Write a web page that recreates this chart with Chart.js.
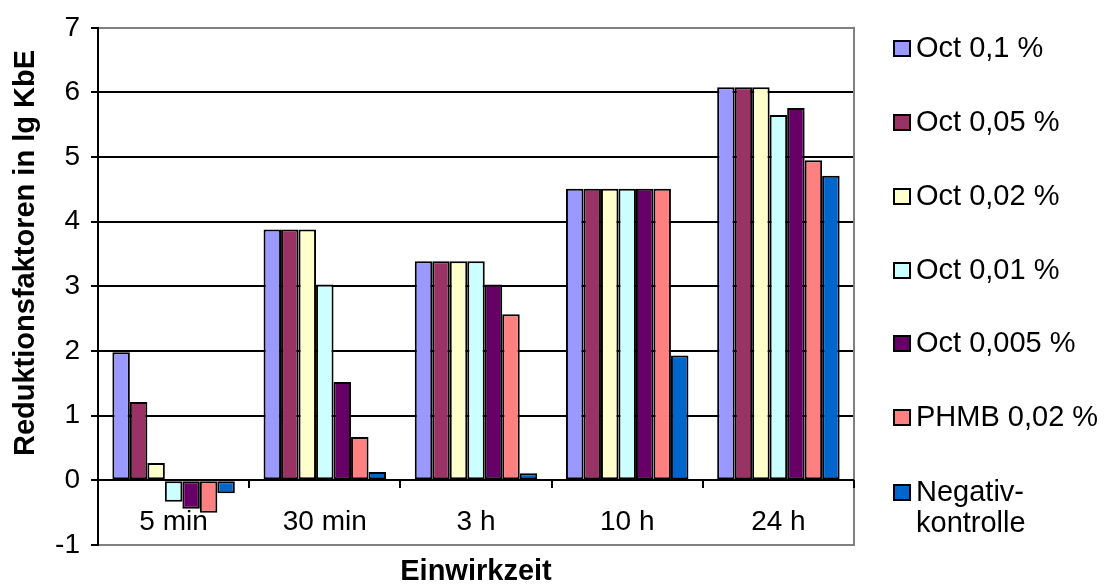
<!DOCTYPE html>
<html>
<head>
<meta charset="utf-8">
<title>Reduktionsfaktoren</title>
<script src="https://cdn.jsdelivr.net/npm/chart.js@4.4.1/dist/chart.umd.min.js"></script>
<style>
  html, body { margin: 0; padding: 0; background: #fff; }
  #wrap { position: relative; width: 1112px; height: 585px; overflow: hidden; }
  #chart { position: absolute; left: 0; top: 0; }
  .lg-box { position: absolute; width: 18px; height: 17px; box-sizing: border-box; border: 2px solid #000; }
  .lg-text { position: absolute; font-family: "Liberation Sans", Arial, sans-serif; font-size: 29px; line-height: 31px; color: #000; white-space: nowrap; }
</style>
</head>
<body>
<div id="wrap">
  <canvas id="chart" width="1112" height="585"></canvas>
</div>
<script>
// Exposure times
const categories = ['5 min', '30 min', '3 h', '10 h', '24 h'];

// Reduction factors (lg CFU) per solution
const oct0_1   = [1.98, 3.88, 3.39, 4.51, 6.08];
const oct0_05  = [1.21, 3.88, 3.39, 4.51, 6.08];
const oct0_02  = [0.27, 3.88, 3.39, 4.51, 6.08];
const oct0_01  = [-0.33, 3.03, 3.39, 4.51, 5.65];
const oct0_005 = [-0.44, 1.52, 3.03, 4.51, 5.76];
const phmb0_02 = [-0.50, 0.67, 2.57, 4.51, 4.95];
const negativ  = [-0.20, 0.13, 0.11, 1.93, 4.71];

const seriesNames = ['Oct 0,1 %', 'Oct 0,05 %', 'Oct 0,02 %', 'Oct 0,01 %', 'Oct 0,005 %', 'PHMB 0,02 %', 'Negativkontrolle'];
const legendLines = [['Oct 0,1 %'], ['Oct 0,05 %'], ['Oct 0,02 %'], ['Oct 0,01 %'], ['Oct 0,005 %'], ['PHMB 0,02 %'], ['Negativ-', 'kontrolle']];
const seriesColors = ['#9999FF', '#993366', '#FFFFCC', '#CCFFFF', '#660066', '#FF8080', '#0066CC'];
const seriesValues = [oct0_1, oct0_05, oct0_02, oct0_01, oct0_005, phmb0_02, negativ];

const yMin = -1, yMax = 7, yStep = 1;

const FONT = '"Liberation Sans", Arial, sans-serif';

// Right plot border, the zero line with its category tick marks, and the y-axis title
const frameAndZeroTicks = {
  id: 'frameAndZeroTicks',
  beforeDatasetsDraw(chart) {
    const { ctx, chartArea } = chart;
    ctx.save();
    ctx.strokeStyle = '#808080';
    ctx.lineWidth = 2;
    ctx.beginPath();
    ctx.moveTo(chartArea.right, chartArea.top - 1);
    ctx.lineTo(chartArea.right, chartArea.bottom + 1);
    ctx.stroke();
    ctx.restore();
  },
  afterDatasetsDraw(chart) {
    const { ctx, chartArea } = chart;
    const xs = chart.scales.x, ys = chart.scales.y;
    const y0 = Math.round(ys.getPixelForValue(0));
    ctx.save();
    ctx.strokeStyle = '#000';
    ctx.lineWidth = 2;
    ctx.beginPath();
    ctx.moveTo(chartArea.left, y0);
    ctx.lineTo(chartArea.right, y0);
    for (let i = 0; i < categories.length; i++) {
      const edge = i + 1 < categories.length
        ? Math.round((xs.getPixelForValue(i) + xs.getPixelForValue(i + 1)) / 2)
        : Math.round(chartArea.right);
      ctx.moveTo(edge, y0);
      ctx.lineTo(edge, y0 + 8);
    }
    ctx.stroke();
    ctx.restore();
  },
  afterDraw(chart) {
    const { ctx } = chart;
    ctx.save();
    ctx.translate(26, 253);
    ctx.rotate(-Math.PI / 2);
    ctx.font = 'bold 29px ' + FONT;
    ctx.fillStyle = '#000';
    ctx.textAlign = 'center';
    ctx.textBaseline = 'middle';
    ctx.fillText('Reduktionsfaktoren in lg KbE', 0, 0);
    ctx.restore();
  }
};

new Chart(document.getElementById('chart'), {
  type: 'bar',
  data: {
    labels: categories,
    datasets: seriesNames.map((name, i) => ({
      label: name,
      data: seriesValues[i],
      backgroundColor: seriesColors[i],
      borderColor: '#000',
      borderWidth: 2,
      borderSkipped: false,
      categoryPercentage: 0.81,
      barPercentage: 1.0
    }))
  },
  options: {
    responsive: false,
    animation: false,
    layout: { padding: { left: 0, right: 258, top: 25, bottom: 0 } },
    plugins: { legend: { display: false }, tooltip: { enabled: false } },
    scales: {
      x: {
        position: 'bottom',
        grid: { display: false, drawTicks: false },
        border: { display: true, color: '#808080', width: 2 },
        ticks: { mirror: true, padding: 6, color: '#000', font: { family: FONT, size: 28 }, maxRotation: 0, autoSkip: false },
        title: { display: true, text: 'Einwirkzeit', color: '#000', font: { family: FONT, size: 29, weight: 'bold', lineHeight: 0.9 }, padding: { top: 0, bottom: 0 } },
        afterFit(scale) { scale.height = 40; }
      },
      y: {
        min: yMin,
        max: yMax,
        ticks: { stepSize: yStep, padding: 11, color: '#000', font: { family: FONT, size: 28 } },
        grid: {
          color: (c) => (c.tick && (c.tick.value === yMax || c.tick.value === yMin)) ? '#808080' : '#000',
          lineWidth: 2,
          tickLength: 7,
          tickColor: '#000',
          tickWidth: 2
        },
        border: { color: '#000', width: 2 },
        afterFit(scale) { scale.width = 98; }
      }
    }
  },
  plugins: [frameAndZeroTicks]
});

// Legend
const wrap = document.getElementById('wrap');
const legendCenters = [48, 122, 196, 270, 343, 417, 492];
legendLines.forEach((lines, i) => {
  const box = document.createElement('div');
  box.className = 'lg-box';
  box.style.left = '893px';
  box.style.top = (legendCenters[i] - 8) + 'px';
  box.style.background = seriesColors[i];
  wrap.appendChild(box);
  const txt = document.createElement('div');
  txt.className = 'lg-text';
  txt.style.left = '916px';
  txt.style.top = (legendCenters[i] - 16) + 'px';
  txt.innerHTML = lines.join('<br>');
  wrap.appendChild(txt);
});
</script>
</body>
</html>
